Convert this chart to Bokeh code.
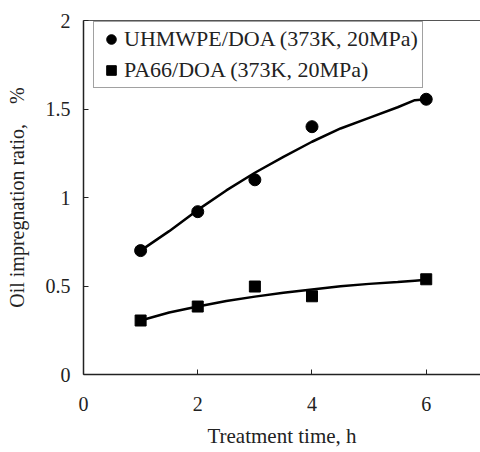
from bokeh.plotting import figure
from bokeh.models import Range1d, LinearAxis, Legend, LegendItem, FixedTicker
from bokeh.embed import file_html
from bokeh.resources import INLINE

# data
time_h = [1, 2, 3, 4, 6]
uhmwpe = [0.70, 0.92, 1.10, 1.40, 1.555]
pa66 = [0.305, 0.384, 0.497, 0.442, 0.538]

fit_x = [1, 1.5, 2, 2.5, 3, 3.5, 4, 4.5, 5, 5.5, 5.8, 6]
fit_uhmwpe = [0.70, 0.81, 0.93, 1.04, 1.14, 1.23, 1.315, 1.39, 1.45, 1.51, 1.55, 1.555]
fit_pa66 = [0.305, 0.35, 0.384, 0.415, 0.44, 0.462, 0.48, 0.498, 0.512, 0.522, 0.53, 0.535]

x_ticks = [0, 2, 4, 6]
y_ticks = [0, 0.5, 1, 1.5, 2]

FONT = "Liberation Serif"
INK = "#222222"

p = figure(width=480, height=452, output_backend="svg", toolbar_location=None,
           x_range=Range1d(0, 6.95), y_range=Range1d(0, 2),
           min_border_left=83, min_border_right=0, min_border_top=20, min_border_bottom=78)
p.outline_line_color = None
p.grid.visible = False
p.background_fill_color = "white"

for ax in (p.xaxis[0], p.yaxis[0]):
    ax.major_tick_in = 5
    ax.major_tick_out = 0
    ax.minor_tick_line_color = None
    ax.axis_line_color = INK
    ax.axis_line_width = 1.5
    ax.major_tick_line_color = INK
    ax.major_label_text_font = FONT
    ax.major_label_text_font_size = "20px"
    ax.major_label_text_color = INK
    ax.axis_label_text_font = FONT
    ax.axis_label_text_font_style = "normal"
    ax.axis_label_text_color = INK

p.xaxis.ticker = FixedTicker(ticks=x_ticks)
p.yaxis.ticker = FixedTicker(ticks=y_ticks)
p.yaxis.major_label_overrides = {0: "0", 0.5: "0.5", 1: "1", 1.5: "1.5", 2: "2"}
p.xaxis.axis_label = "Treatment time, h"
p.yaxis.axis_label = "Oil impregnation ratio,\u00a0\u00a0\u00a0\u00a0%"
p.xaxis.axis_label_text_font_size = "21px"
p.yaxis.axis_label_text_font_size = "20px"
p.xaxis.major_label_standoff = 22
p.xaxis.axis_label_standoff = 10
p.yaxis.major_label_standoff = 13
p.yaxis.axis_label_standoff = 15

top = LinearAxis(ticker=FixedTicker(ticks=[]), major_label_text_font_size="0px",
                 axis_line_color="#555555", axis_line_width=1.2,
                 major_tick_line_color=None, minor_tick_line_color=None)
p.add_layout(top, "above")

p.line(fit_x, fit_uhmwpe, line_color="black", line_width=2.5)
p.line(fit_x, fit_pa66, line_color="black", line_width=2.5)
r1 = p.scatter(time_h, uhmwpe, marker="circle", size=12, fill_color="black", line_color="black")
r2 = p.scatter(time_h, pa66, marker="square", size=11, fill_color="black", line_color="black")

legend = Legend(items=[LegendItem(label="UHMWPE/DOA (373K, 20MPa)", renderers=[r1]),
                       LegendItem(label="PA66/DOA (373K, 20MPa)", renderers=[r2])],
                location=(10, 286))
legend.margin = 0
legend.padding = 4
legend.spacing = 5
legend.label_text_font = FONT
legend.label_text_font_size = "22px"
legend.label_text_color = INK
legend.border_line_color = "#444444"
legend.border_line_width = 1.2
legend.glyph_width = 26
legend.glyph_height = 24
legend.label_standoff = 0
legend.label_height = 24
p.add_layout(legend)

open("out.html", "w").write(file_html(p, INLINE))
